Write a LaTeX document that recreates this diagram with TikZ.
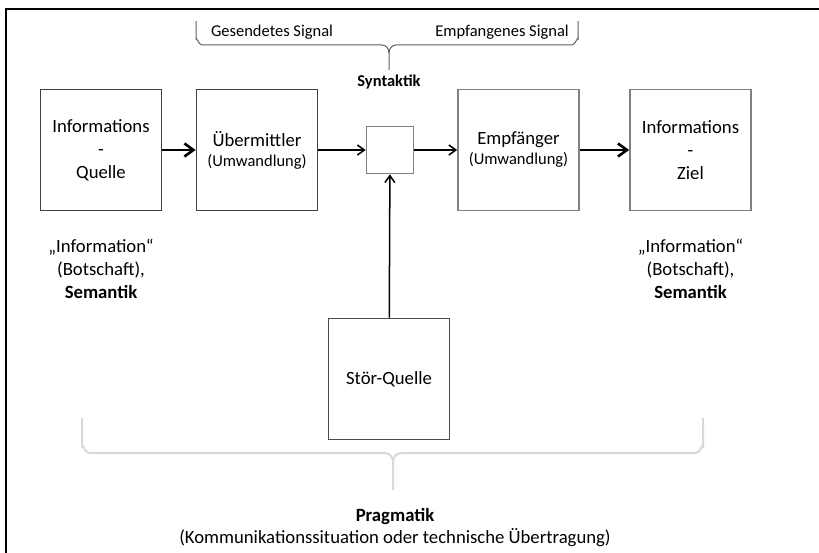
\documentclass[tikz,border=0pt]{standalone}
\usepackage{fontspec}
\setmainfont{Carlito}
\usetikzlibrary{arrows.meta}
\definecolor{boxdark}{RGB}{64,64,64}
\definecolor{boxgray}{RGB}{128,128,128}
\definecolor{bracetop}{RGB}{95,95,95}
\definecolor{bracelight}{RGB}{217,217,217}
\tikzset{
  big/.style={font=\fontsize{18.7}{23}\selectfont},
  small/.style={font=\fontsize{16.5}{20}\selectfont},
  block/.style={draw=#1, line width=1.7pt, minimum width=121pt, minimum height=121pt,
    inner sep=0pt, align=center, big},
  block/.default=boxdark,
  thinarrow/.style={line width=1.5pt, -{Straight Barb[length=7pt,width=10pt,line width=1.5pt]}},
  thickarrow/.style={line width=2.6pt, -{Straight Barb[length=9pt,width=13pt,line width=2.6pt]}}
}
\begin{document}
\begin{tikzpicture}[x=1pt,y=-1pt]
  \useasboundingbox (0,0) rectangle (819,553);
  \draw[line width=2.8pt] (819,9) -- (6,9) -- (6,553);
  % blocks
  \node[block] (quelle) at (101,150) {Informations\\-\\Quelle};
  \node[block] (sender) at (257,150) {Übermittler\\[-3pt]{\fontsize{16.5}{20}\selectfont(Umwandlung)}};
  \node[block=boxgray, minimum width=47pt, minimum height=47pt] (kanal) at (390,150) {};
  \node[block=boxgray] (empf) at (518.5,150) {Empfänger\\[-3pt]{\fontsize{16.5}{20}\selectfont(Umwandlung)}};
  \node[block=boxgray] (ziel) at (690.5,150) {Informations\\-\\Ziel};
  \node[block=boxdark!85!gray] (stoer) at (389,379) {Stör-Quelle};
  \draw[thickarrow] (quelle) -- (sender);
  \draw[thinarrow] (sender) -- (kanal);
  \draw[thinarrow] (kanal) -- (empf);
  \draw[thickarrow] (empf) -- (ziel);
  \draw[thinarrow] (stoer) -- (kanal);
  % texts
  \foreach \x/\n in {101/semq,690.5/semz}
    \node[big, align=center] (\n) at (\x,269) {„Information“\\(Botschaft),\\\textbf{Semantik}};
  \node[small] (gesendet) at (272,32) {Gesendetes Signal};
  \node[small] (empfangen) at (502,32) {Empfangenes Signal};
  \node[small, font=\fontsize{16.5}{20}\selectfont\bfseries] (syntaktik) at (389,82) {Syntaktik};
  \node[big, align=center] (pragmatik) at (395,528)
    {\textbf{Pragmatik}\\[-1pt](Kommunikationssituation oder technische Übertragung)};
  % braces
  \draw[bracetop, line width=1pt] (196,21) -- (196,39) to[out=90,in=180] (202,45) -- (382,45)
    to[out=0,in=90] (389,53) -- (389,70);
  \draw[bracetop, line width=1pt] (578,21) -- (578,39) to[out=90,in=0] (572,45) -- (396,45)
    to[out=180,in=90] (389,53);
  \draw[bracelight, line width=2pt] (82,418) -- (82,446) to[out=90,in=180] (89,453) -- (385,453)
    to[out=0,in=90] (393,462) -- (393,490);
  \draw[bracelight, line width=2pt] (703,418) -- (703,446) to[out=90,in=0] (696,453) -- (401,453)
    to[out=180,in=90] (393,462);
\end{tikzpicture}
\end{document}
